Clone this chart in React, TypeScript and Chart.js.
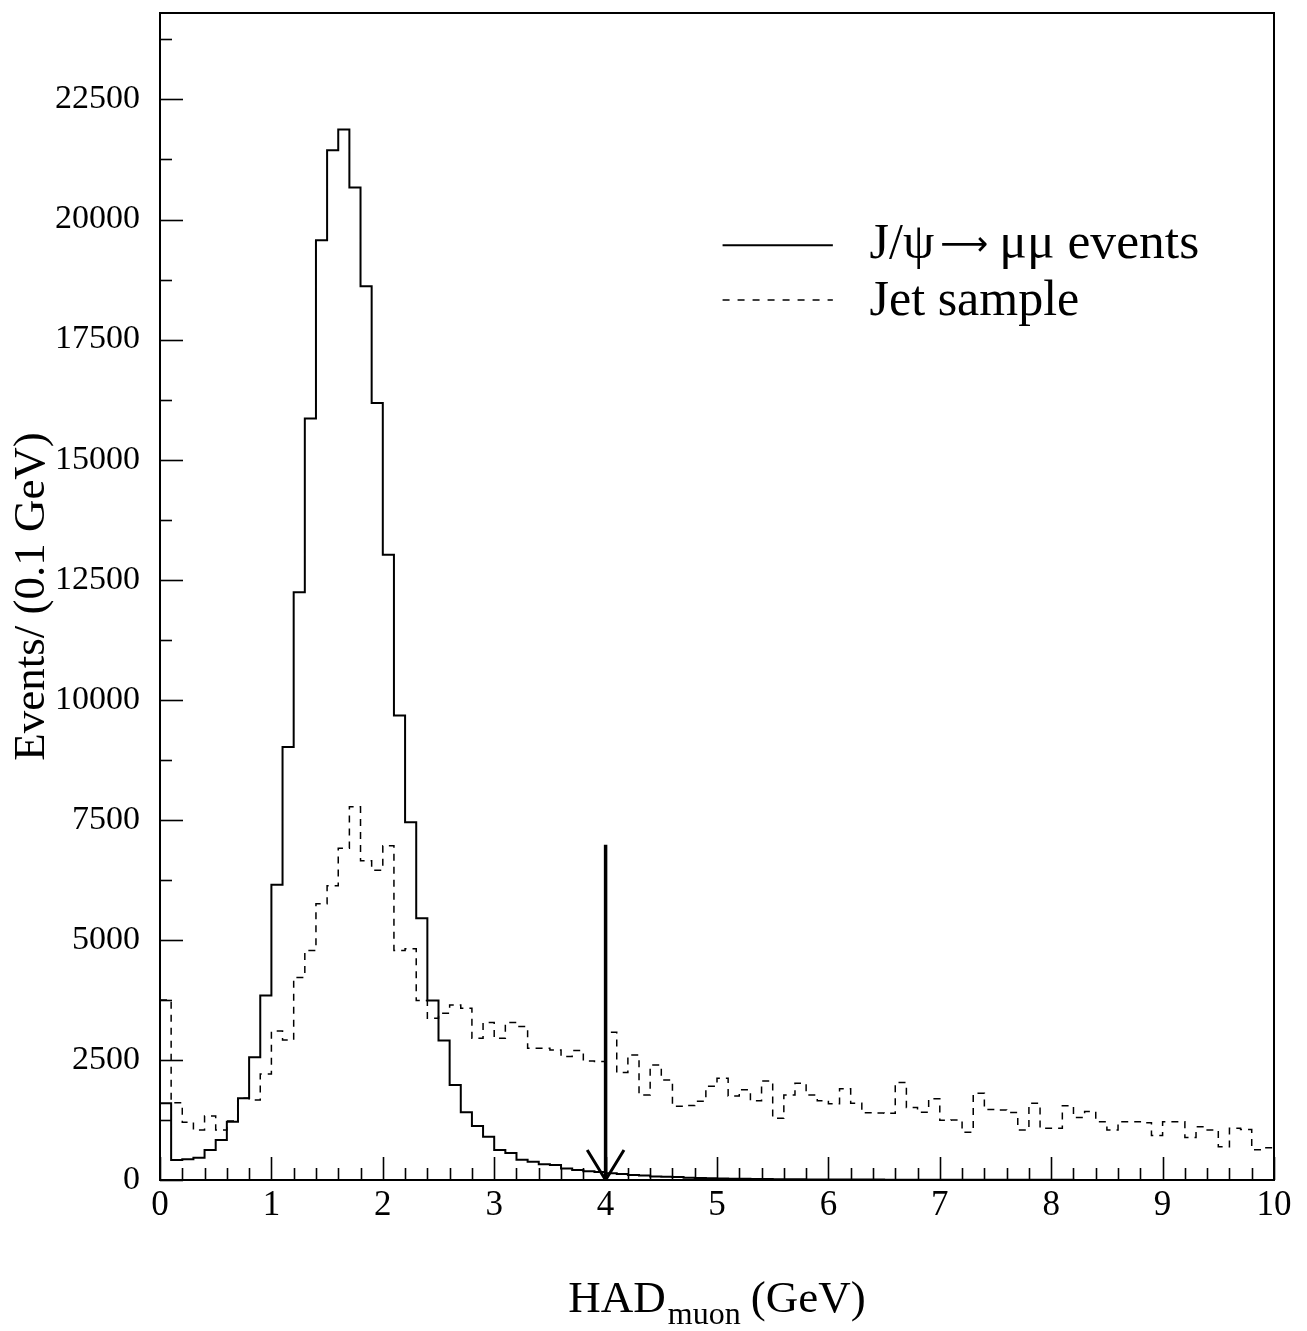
import React, { useEffect, useRef } from 'react';
import { Chart, registerables } from 'chart.js';

Chart.register(...registerables);

// ---------------- data ----------------
const binWidth = 0.1;

// J/psi -> mu mu events, 100 bins of 0.1 GeV from 0 to 10 GeV
const jpsiCounts = [
  1600, 417, 430, 465, 625, 833, 1215, 1701, 2556, 3840,
  6146, 9014, 12236, 15854, 19569, 21444, 21875, 20667, 18611, 16181,
  13021, 9674, 7451, 5451, 3736, 2903, 1979, 1410, 1125, 903,
  625, 560, 420, 380, 330, 310, 240, 210, 180, 165,
  140, 125, 105, 95, 75, 68, 60, 45, 40, 36,
  32, 28, 25, 22, 20, 18, 16, 14, 12, 11,
  10, 9, 9, 8, 8, 7, 7, 6, 6, 6,
  5, 5, 5, 4, 4, 4, 4, 3, 3, 3,
  3, 3, 2, 2, 2, 2, 2, 2, 2, 1,
  1, 1, 1, 1, 1, 1, 1, 1, 1, 1,
];

// Jet sample, 100 bins of 0.1 GeV
const jetCounts = [
  3750, 1611, 1201, 1042, 1333, 1042, 1229, 1701, 1667, 2208,
  3104, 2917, 4215, 4778, 5750, 6125, 6910, 7771, 6646, 6451,
  6958, 4778, 4813, 3736, 3368, 3472, 3646, 3576, 2951, 3278,
  2951, 3278, 3194, 2743, 2743, 2708, 2569, 2694, 2479, 2465,
  3076, 2240, 2604, 1771, 2396, 2083, 1535, 1550, 1640, 1950,
  2118, 1750, 1880, 1650, 2060, 1285, 1771, 2014, 1771, 1650,
  1590, 1900, 1597, 1400, 1395, 1389, 2028, 1510, 1410, 1690,
  1243, 1250, 996, 1806, 1470, 1458, 1403, 1042, 1597, 1076,
  1076, 1545, 1300, 1424, 1215, 1042, 1215, 1215, 1194, 925,
  1215, 1215, 885, 1111, 1042, 694, 1076, 1050, 632, 670,
];

// cut arrow at HAD = 4 GeV
const cutArrowX = [4, 4];
const cutArrowY = [6980, 0];
const cutHeadX = [3.835, 4, 4.165];
const cutHeadY = [625, 0, 625];

// axes
const xMin = 0;
const xMax = 10;
const xTickValues = [0, 1, 2, 3, 4, 5, 6, 7, 8, 9, 10];
const xMinorStep = 0.2;
const yMin = 0;
const yMax = 24300;
const yTickValues = [0, 2500, 5000, 7500, 10000, 12500, 15000, 17500, 20000, 22500];
const yMinorStep = 1250;

const legendLabels = ['J/\u03C8 \u2192 \u03BC\u03BC events', 'Jet sample'];
const legendParts = ['J/\u03C8', '\u27F6', '\u03BC\u03BC events'];
const yTitle = 'Events/ (0.1 GeV)';
const xTitleMain = 'HAD';
const xTitleSub = 'muon';
const xTitleUnit = '(GeV)';

const FONT = '"Liberation Serif", "DejaVu Serif", "Times New Roman", serif';
const ARROW_FONT = '"DejaVu Sans", "Liberation Serif", serif';

function histPoints(counts: number[]) {
  const pts = counts.map((c, i) => ({ x: +(i * binWidth).toFixed(3), y: c }));
  pts.push({ x: +(counts.length * binWidth).toFixed(3), y: counts[counts.length - 1] });
  return pts;
}

function zipXY(xs: number[], ys: number[]) {
  return xs.map((x, i) => ({ x, y: ys[i] }));
}

const decorPlugin = {
  id: 'decor',
  afterDatasetsDraw(chart: any) {
    const { ctx, chartArea, scales } = chart;
    const { left, right, top, bottom } = chartArea;
    const xs = scales.x;
    const ys = scales.y;
    const w = right - left;
    const h = bottom - top;
    ctx.save();
    ctx.strokeStyle = '#000';
    ctx.fillStyle = '#000';
    ctx.lineCap = 'butt';

    // y ticks (inward)
    ctx.lineWidth = 1.6;
    const nY = Math.floor((yMax - yMin) / yMinorStep + 1e-9);
    for (let k = 0; k <= nY; k++) {
      const v = yMin + k * yMinorStep;
      const py = Math.round(ys.getPixelForValue(v)) + 0.5;
      const len = yTickValues.includes(v) ? 23 : 12;
      ctx.beginPath();
      ctx.moveTo(left, py);
      ctx.lineTo(left + len, py);
      ctx.stroke();
    }
    // x ticks (inward)
    const nX = Math.round((xMax - xMin) / xMinorStep);
    for (let k = 0; k <= nX; k++) {
      const v = xMin + k * xMinorStep;
      const px = Math.round(xs.getPixelForValue(v)) + 0.5;
      const isMajor = xTickValues.some((t) => Math.abs(t - v) < 1e-6);
      const len = isMajor ? 23 : 12;
      ctx.beginPath();
      ctx.moveTo(px, bottom);
      ctx.lineTo(px, bottom - len);
      ctx.stroke();
    }

    // frame
    ctx.lineWidth = 2;
    ctx.strokeRect(left, top, w, h);

    // legend
    const lx0 = left + 0.505 * w;
    const lx1 = left + 0.604 * w;
    const tx = left + 0.637 * w;
    const rows = [top + 0.199 * h, top + 0.246 * h];
    ctx.textBaseline = 'alphabetic';
    ctx.textAlign = 'left';
    // solid sample line
    ctx.lineWidth = 2;
    ctx.setLineDash([]);
    ctx.beginPath();
    ctx.moveTo(lx0, rows[0]);
    ctx.lineTo(lx1, rows[0]);
    ctx.stroke();
    let cx = tx;
    ctx.font = `50px ${FONT}`;
    ctx.fillText(legendParts[0], cx, rows[0] + 13);
    cx += ctx.measureText(legendParts[0]).width + 6;
    ctx.font = `34px ${ARROW_FONT}`;
    const aw = ctx.measureText(legendParts[1]).width;
    ctx.save();
    ctx.translate(cx, rows[0] + 10);
    ctx.scale(48 / aw, 1);
    ctx.fillText(legendParts[1], 0, 0);
    ctx.restore();
    cx += 48 + 11;
    ctx.font = `50px ${FONT}`;
    const restW = ctx.measureText(legendParts[2]).width;
    ctx.save();
    ctx.translate(cx, rows[0] + 13);
    ctx.scale(200 / restW, 1);
    ctx.fillText(legendParts[2], 0, 0);
    ctx.restore();
    // dashed sample line
    ctx.lineWidth = 1.5;
    ctx.setLineDash([7, 8]);
    ctx.beginPath();
    ctx.moveTo(lx0, rows[1]);
    ctx.lineTo(lx1, rows[1]);
    ctx.stroke();
    ctx.setLineDash([]);
    ctx.font = `50px ${FONT}`;
    ctx.fillText(legendLabels[1], tx, rows[1] + 15);

    // x axis title with subscript
    const mainFont = `45px ${FONT}`;
    const subFont = `32px ${FONT}`;
    ctx.font = mainFont;
    const w1 = ctx.measureText(xTitleMain).width;
    const w3 = ctx.measureText(xTitleUnit).width;
    ctx.font = subFont;
    const w2 = ctx.measureText(xTitleSub).width;
    const gap1 = 2;
    const gap2 = 10;
    const total = w1 + gap1 + w2 + gap2 + w3;
    let tx2 = (left + right) / 2 - total / 2;
    const base = bottom + 132;
    ctx.font = mainFont;
    ctx.fillText(xTitleMain, tx2, base);
    tx2 += w1 + gap1;
    ctx.font = subFont;
    ctx.fillText(xTitleSub, tx2, base + 12);
    tx2 += w2 + gap2;
    ctx.font = mainFont;
    ctx.fillText(xTitleUnit, tx2, base);

    ctx.restore();
  },
};

export default function App() {
  const canvasRef = useRef<HTMLCanvasElement | null>(null);

  useEffect(() => {
    if (!canvasRef.current) return;
    const chart = new Chart(canvasRef.current, {
      type: 'line',
      data: {
        datasets: [
          {
            label: legendLabels[0],
            data: histPoints(jpsiCounts),
            borderColor: '#000',
            borderWidth: 2,
            stepped: 'before',
            pointRadius: 0,
            fill: false,
          },
          {
            label: legendLabels[1],
            data: histPoints(jetCounts),
            borderColor: '#000',
            borderWidth: 1.5,
            borderDash: [7, 6],
            stepped: 'before',
            pointRadius: 0,
            fill: false,
          },
          {
            label: 'cut',
            data: zipXY(cutArrowX, cutArrowY),
            borderColor: '#000',
            borderWidth: 3.5,
            pointRadius: 0,
            fill: false,
          },
          {
            label: 'cut head',
            data: zipXY(cutHeadX, cutHeadY),
            borderColor: '#000',
            borderWidth: 3,
            borderJoinStyle: 'miter',
            pointRadius: 0,
            fill: false,
          },
        ],
      } as any,
      options: {
        animation: false,
        responsive: true,
        maintainAspectRatio: false,
        devicePixelRatio: 1,
        events: [],
        layout: { padding: { top: 13, right: 33, left: 0, bottom: 0 } },
        plugins: {
          legend: { display: false },
          tooltip: { enabled: false },
        },
        scales: {
          x: {
            type: 'linear',
            min: xMin,
            max: xMax,
            grid: { display: false, drawTicks: false },
            border: { display: false },
            afterBuildTicks: (scale: any) => {
              scale.ticks = xTickValues.map((v) => ({ value: v }));
            },
            ticks: {
              color: '#000',
              padding: 5,
              maxRotation: 0,
              autoSkip: false,
              callback: (v: any) => String(v),
              font: { family: FONT, size: 35 },
            },
            title: { display: false },
            afterFit: (scale: any) => {
              scale.height = 151;
              scale.paddingLeft = 0;
              scale.paddingRight = 0;
            },
          },
          y: {
            type: 'linear',
            min: yMin,
            max: yMax,
            grid: { display: false, drawTicks: false },
            border: { display: false },
            afterBuildTicks: (scale: any) => {
              scale.ticks = yTickValues.map((v) => ({ value: v }));
            },
            ticks: {
              color: '#000',
              padding: 20,
              autoSkip: false,
              callback: (v: any) => String(v),
              font: { family: FONT, size: 34 },
            },
            title: {
              display: true,
              text: yTitle,
              color: '#000',
              font: { family: FONT, size: 45 },
              padding: { top: 5, bottom: 0 },
            },
            afterFit: (scale: any) => {
              scale.width = 160;
              scale.paddingTop = 0;
              scale.paddingBottom = 0;
            },
          },
        },
      } as any,
      plugins: [decorPlugin],
    });
    return () => chart.destroy();
  }, []);

  return (
    <div style={{ position: 'absolute', left: 0, top: 0, width: 1307, height: 1331, background: '#fff' }}>
      <canvas ref={canvasRef} />
    </div>
  );
}
